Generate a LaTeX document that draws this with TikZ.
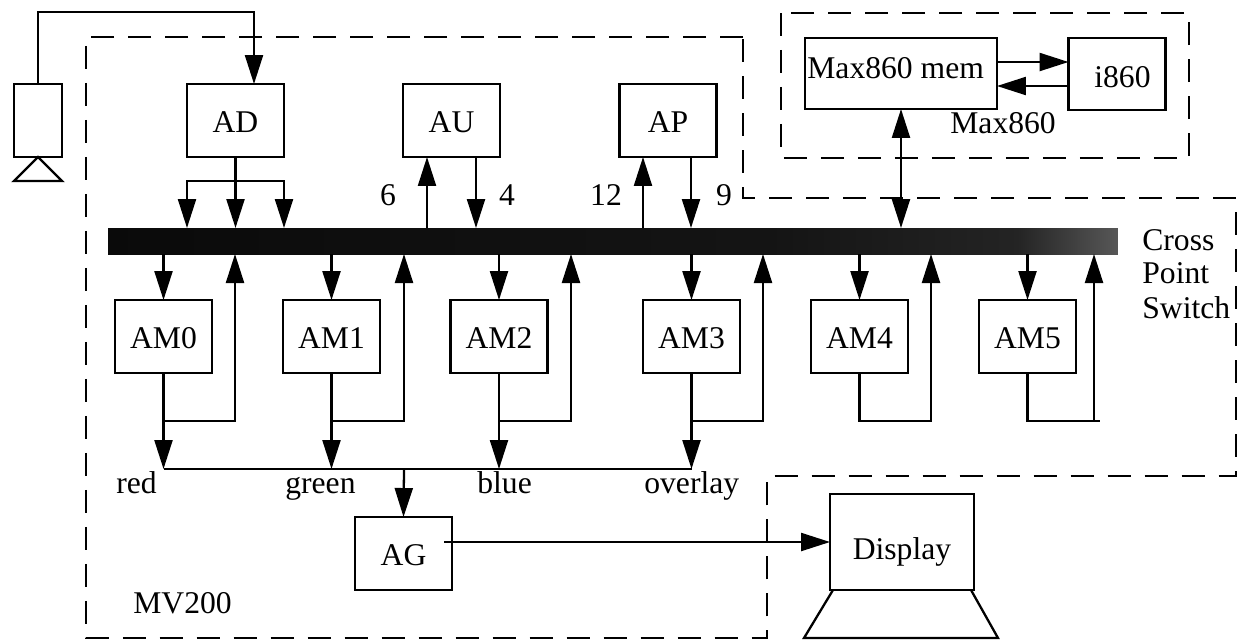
\documentclass[tikz,border=0pt]{standalone}
\usepackage{fontspec}
\setmainfont{Liberation Serif}
\usetikzlibrary{arrows.meta,positioning,calc}

\pgfdeclarehorizontalshading{barfade}{100bp}{color(0bp)=(black!96); color(25bp)=(black!96); color(58bp)=(black!92); color(70bp)=(black!86); color(75bp)=(black!66); color(100bp)=(black!66)}

\tikzset{
  blockbox/.style={draw,line width=1.3pt,outer sep=0pt,inner sep=0pt,minimum width=1.94cm,minimum height=1.46cm,text height=0.46cm,text depth=0pt},
  wire/.style={line width=1.3pt},
  flow/.style={line width=1.3pt,->},
  outline/.style={line width=1.3pt,dash pattern=on 0.46cm off 0.28cm},
  tag/.style={anchor=base west,inner sep=0pt}
}

\begin{document}
\begin{tikzpicture}[x=0.02cm,y=-0.02cm,font=\fontsize{18}{20}\selectfont,
    >={Triangle[length=0.58cm,width=0.36cm]}]
  \useasboundingbox (0,0) rectangle (1237,640);
  % dashed regions
  \draw[outline] (743,37) -- (86,37) -- (86,638) -- (767,638) -- (767,476) -- (1236,476) -- (1236,198) -- (743,198) -- cycle;
  \draw[outline] (781,13) rectangle (1189,158);
  % switch
  \node[outer sep=0pt,inner sep=0pt,minimum width=20.2cm,minimum height=0.52cm,shading=barfade] (bar) at (613,241) {};
  % top row
  \node[blockbox,minimum width=0.96cm] (cam) at (38,120.5) {};
  \node[blockbox] (AD) at (235.5,120.5) {AD};
  \node[blockbox] (AU) at (451.5,120.5) {AU};
  \node[blockbox] (AP) at (668,120.5) {AP};
  \draw[wire] (cam.south) -- (14,181) -- (62,181) -- cycle;
  \coordinate (feedA) at (38,12);
  \coordinate (feedB) at (254,12);
  \draw[flow] (cam.north -| feedA) -- (feedA) -- (feedB) -- (feedB |- AD.north);
  % AD fan out
  \coordinate (fanL) at (187,181);
  \coordinate (fanR) at (284,181);
  \draw[flow] (AD.south) -- (bar.north -| AD.south);
  \draw[flow] (fanL -| AD.south) -- (fanL) -- (bar.north -| fanL);
  \draw[flow] (fanR -| AD.south) -- (fanR) -- (bar.north -| fanR);
  % AU, AP links
  \foreach \name/\xup/\xdown in {AU/427/476,AP/643/691} {
    \coordinate (up) at (\xup,200);
    \coordinate (down) at (\xdown,200);
    \draw[flow] (bar.north -| up) -- (\name.south -| up);
    \draw[flow] (\name.south -| down) -- (bar.north -| down);
  }
  \node[anchor=base] (six) at (388,205) {6};
  \node[anchor=base] (four) at (507,205) {4};
  \node[anchor=base] (twelve) at (606,205) {12};
  \node[anchor=base] (nine) at (724,205) {9};
  % memory units
  \foreach \n/\xc/\xr in {0/163.5/235,1/331.5/404,2/499/571,3/691.5/763,4/859.5/931,5/1027.5/1094} {
    \node[blockbox] (AM\n) at (\xc,336.5) {AM\n};
    \coordinate (ret\n) at (\xr,421);
    \draw[flow] (bar.south -| AM\n) -- (AM\n.north);
  }
  \coordinate (bus) at (404,469);
  \foreach \n in {0,1,2,3} {
    \draw[flow] (AM\n.south) -- (bus -| AM\n);
    \draw[flow] (ret\n -| AM\n) -- (ret\n) -- (bar.south -| ret\n);
  }
  \foreach \n in {4,5} {
    \draw[flow] (AM\n.south) -- (ret\n -| AM\n) -- (ret\n) -- (bar.south -| ret\n);
  }
  \coordinate (stub) at (1100,421);
  \draw[wire] (ret5) -- (stub);
  % video output
  \draw[wire] (bus -| AM0) -- (bus -| AM3);
  \node[blockbox] (AG) at (403.5,553.5) {AG};
  \draw[flow] (bus) -- (AG.north);
  \node[blockbox,minimum width=2.88cm,minimum height=1.92cm,text height=0.68cm] (display) at (902,542) {Display};
  \coordinate (agout) at (444,542);
  \draw[flow] (agout) -- (display.west);
  \draw[wire] (833,590) -- (804,638) -- (998,638) -- (971,590);
  \node[tag] (red) at (116,493) {red};
  \node[tag] (green) at (285,493) {green};
  \node[tag] (blue) at (477,493) {blue};
  \node[tag] (overlay) at (644,493) {overlay};
  \node[tag] (mv) at (133,613) {MV200};
  % Max860 board
  \node[blockbox,minimum width=3.84cm,minimum height=1.42cm] (mem) at (901,73.5) {};
  \node[blockbox,minimum height=1.44cm] (i860) at (1117,74) {};
  \node[tag] (memtext) at (807,78) {Max860 mem};
  \node[tag] (itext) at (1094,87) {i860};
  \node[tag] (maxtext) at (950,133) {Max860};
  \coordinate (toI) at (1000,62);
  \coordinate (toM) at (1000,86);
  \draw[flow] (mem.east |- toI) -- (i860.west |- toI);
  \draw[flow] (i860.west |- toM) -- (mem.east |- toM);
  \draw[line width=1.3pt,<->] (mem.south) -- (bar.north -| mem.south);
  \node[tag] (cross) at (1142,250) {Cross};
  \node[tag] (point) at (1142,283) {Point};
  \node[tag] (switch) at (1142,318) {Switch};
\end{tikzpicture}
\end{document}
